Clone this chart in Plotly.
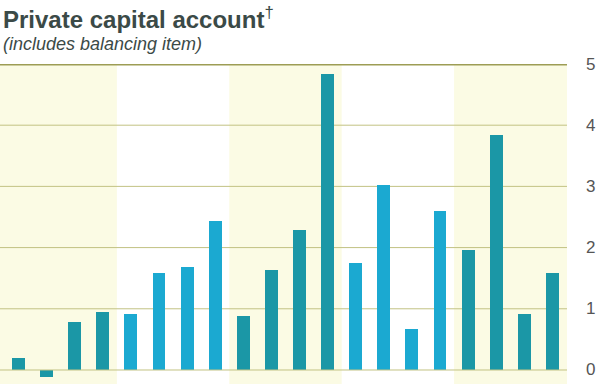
import plotly.graph_objects as go

quarters = list(range(20))
values = [0.19, -0.11, 0.79, 0.95, 0.92, 1.58, 1.68, 2.43, 0.88, 1.63, 2.29, 4.83,
          1.75, 3.02, 0.67, 2.6, 1.96, 3.84, 0.92, 1.58]
y_ticks = [0, 1, 2, 3, 4, 5]

dark = "#1b97a6"
bright = "#1ba9d1"
colors = [dark if (i // 4) % 2 == 0 else bright for i in quarters]

fig = go.Figure()
fig.add_trace(go.Bar(x=quarters, y=values, width=0.46, marker=dict(color=colors, line=dict(width=0)),
                     showlegend=False))

x0, x1 = -0.66, 19.52
shapes = []
for b in range(5):
    if b % 2 == 0:
        sx0 = x0 if b == 0 else b * 4 - 0.5
        sx1 = x1 if b == 4 else b * 4 + 3.5
        shapes.append(dict(type="rect", xref="x", yref="paper", x0=sx0, x1=sx1,
                           y0=0, y1=1, fillcolor="#fbfbe4", line=dict(width=0), layer="below"))
for t in y_ticks:
    shapes.append(dict(type="line", xref="paper", yref="y", x0=0, x1=1, y0=t, y1=t,
                       line=dict(color="#9d9d55" if t == 5 else "#c2c283", width=3 if t == 5 else 1),
                       layer="above" if t in (0, 5) else "below"))

annotations = [
    dict(text="<b>Private capital account</b><sup>†</sup>", xref="paper", yref="paper", x=0, y=1,
         xanchor="left", yanchor="middle", showarrow=False, xshift=1, yshift=46,
         font=dict(family="Liberation Sans, Arial", size=24, color="#3b4a47")),
    dict(text="<i>(includes balancing item)</i>", xref="paper", yref="paper", x=0, y=1,
         xanchor="left", yanchor="middle", showarrow=False, xshift=1, yshift=20,
         font=dict(family="Liberation Sans, Arial", size=18, color="#3b4a47")),
]
for t in y_ticks:
    annotations.append(dict(text=str(t), xref="paper", yref="y", x=1, y=t, xanchor="center", yanchor="middle",
                            xshift=23, showarrow=False,
                            font=dict(family="Liberation Sans, Arial", size=17, color="#555555")))

fig.update_layout(
    width=600, height=384,
    margin=dict(l=0, r=33, t=64, b=0),
    paper_bgcolor="white", plot_bgcolor="white",
    shapes=shapes,
    bargap=0,
    xaxis=dict(range=[x0, x1], visible=False, fixedrange=True, automargin=False),
    yaxis=dict(range=[-0.229, 5], showticklabels=False, showgrid=False, zeroline=False, ticks="",
               automargin=False, fixedrange=True),
    annotations=annotations,
)
fig.write_html("out.html", config={"displayModeBar": False},
               post_script="document.body.style.margin='0';")
